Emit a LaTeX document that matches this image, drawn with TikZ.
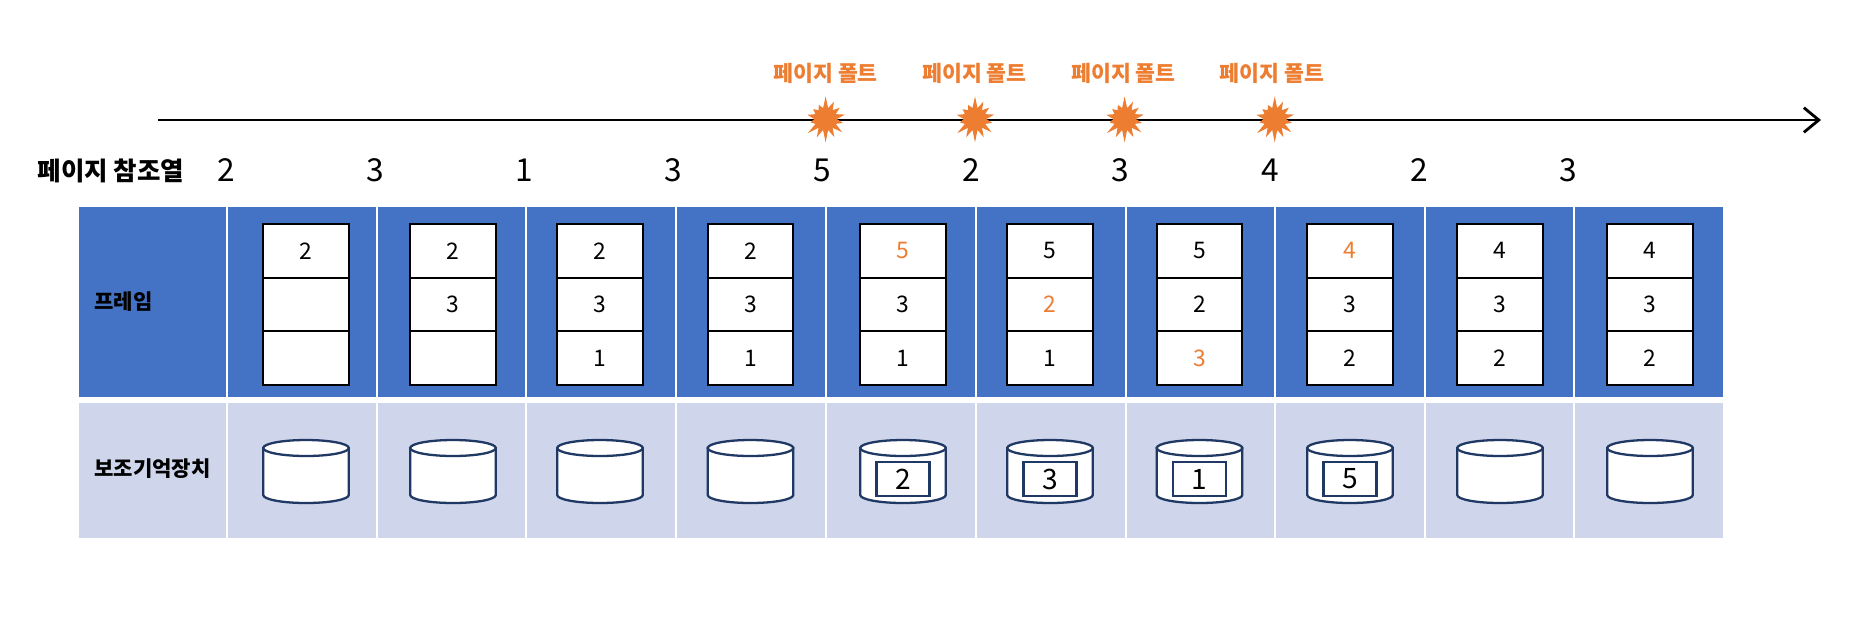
\documentclass[tikz,border=0pt]{standalone}
\usepackage{fontspec}
\setmainfont{Noto Sans CJK KR}
\usetikzlibrary{arrows.meta,shapes.symbols}
\definecolor{frameblue}{HTML}{4472C4}
\definecolor{disklight}{HTML}{CFD5EA}
\definecolor{faultorange}{HTML}{ED7D31}
\definecolor{disknavy}{HTML}{1F3864}
\newcommand{\hit}[1]{\textcolor{faultorange}{#1}}
\tikzset{
  framecell/.style={draw=black, fill=white, line width=1.2pt, minimum width=1.71cm, minimum height=1.072cm, inner sep=0pt, font=\fontsize{13}{13}\selectfont},
  diskline/.style={draw=disknavy, fill=white, line width=1.3pt},
  diskcan/.pic={
    \draw[diskline] (-42.75,448) -- (-42.75,495) arc[x radius=42.75, y radius=8, start angle=180, end angle=0] -- (42.75,448) -- cycle;
    \draw[diskline] (0,448) ellipse [x radius=42.75, y radius=8];
  },
  diskpage/.style={draw=disknavy, fill=white, line width=1.3pt, minimum width=1.06cm, minimum height=0.68cm, inner sep=0pt, font=\fontsize{16}{16}\selectfont},
  faultmark/.style={starburst, starburst points=14, starburst point height=0.25cm, random starburst=7, fill=faultorange, draw=none, minimum width=0.95cm, minimum height=0.95cm, inner sep=0pt},
  faultlabel/.style={text=faultorange, font=\fontsize{12.3}{12.3}\selectfont\bfseries},
  refdigit/.style={font=\fontsize{18}{18}\selectfont},
  rowlabel/.style={anchor=west, inner sep=0pt, font=\fontsize{12}{12}\selectfont\bfseries}
}
\begin{document}
\begin{tikzpicture}[x=0.02cm,y=-0.02cm]
  \useasboundingbox (0,0) rectangle (1868,640);
  % time line
  \coordinate (tstart) at (158,120);
  \coordinate (tend) at (1821,120);
  \draw[line width=1.6pt, -{Straight Barb[length=8.5pt,width=14pt]}] (tstart) -- (tend);
  % faults
  \foreach \id/\mx/\lx in {a/825.6/825.6, b/975/974.5, c/1124.6/1123.5, d/1274.7/1272}{
    \node[faultmark] (mark\id) at (\mx,119) {};
    \node[faultlabel] (fault\id) at (\lx,73) {페이지 폴트};
  }
  % reference string
  \node[inner sep=0pt, font=\fontsize{14.5}{14.5}\selectfont\bfseries] (reflabel) at (111,171) {페이지 참조열};
  \foreach \i/\x/\v in {1/226/2, 2/375/3, 3/524/1, 4/673/3, 5/822/5, 6/971/2, 7/1120/3, 8/1270/4, 9/1419/2, 10/1568/3}{
    \node[refdigit] (ref\i) at (\x,170) {\v};
  }
  % backgrounds
  \fill[frameblue] (78.6,206.5) rectangle (1722.6,397);
  \fill[disklight] (78.6,403) rectangle (1722.6,538);
  \foreach \x in {227,376.6,526,676,826,975.6,1125.6,1275,1425,1574}{
    \draw[white, line width=1.2pt] (\x,206) -- (\x,397);
    \draw[white, line width=1.2pt] (\x,403) -- (\x,538);
  }
  \node[rowlabel, text=black] (framelabel) at (94,302) {프레임};
  \node[rowlabel, text=black] (disklabel) at (94,469) {보조기억장치};
  % frames
  \foreach \i/\x/\ca/\cb/\cc in {1/306/2//, 2/453/2/3/, 3/600/2/3/1, 4/750.5/2/3/1, 5/903/\hit{5}/3/1, 6/1050/5/\hit{2}/1, 7/1199.5/5/2/\hit{3}, 8/1350/\hit{4}/3/2, 9/1500/4/3/2, 10/1650/4/3/2}{
    \node[framecell] (fa\i) at (\x,250.8) {\ca};
    \node[framecell] (fb\i) at (\x,304.4) {\cb};
    \node[framecell] (fc\i) at (\x,358) {\cc};
  }
  % disks
  \foreach \i/\x in {1/306, 2/453, 3/600, 4/750.5, 5/903, 6/1050, 7/1199.5, 8/1350, 9/1500, 10/1650}{
    \pic (disk\i) at (\x,0) {diskcan};
  }
  \foreach \i/\x/\v in {5/903/2, 6/1050/3, 7/1199.5/1, 8/1350/5}{
    \node[diskpage] (page\i) at (\x,479) {\v};
  }
\end{tikzpicture}
\end{document}
